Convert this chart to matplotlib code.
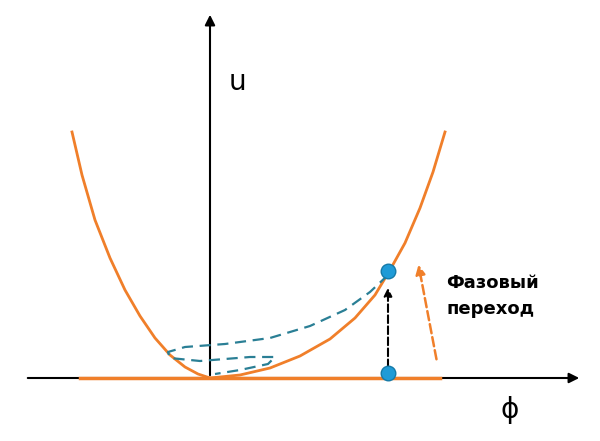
import matplotlib.pyplot as plt
import numpy as np

# schematic points, read in pixel coords of the 600x441 picture
left_x = [72, 82, 95, 110, 125, 140, 155, 170, 185, 198, 210]
left_y = [132, 175, 220, 258, 290, 316, 338, 355, 367, 374, 378]
right_x = [210, 240, 270, 300, 330, 355, 375, 390, 405, 420, 433, 445]
right_y = [378, 375, 368, 356, 339, 318, 295, 270, 243, 208, 172, 132]
loop_x = [388, 370, 345, 310, 270, 225, 185, 168, 170, 200, 250, 275, 268, 240, 215]
loop_y = [275, 292, 310, 326, 338, 344, 347, 352, 358, 361, 357, 357, 364, 370, 374]
dots_x = [388, 388]
dots_y = [271, 373]

fig = plt.figure(figsize=(6, 4.41), dpi=100)
ax = fig.add_axes([0, 0, 1, 1])
ax.set_xlim(0, 600)
ax.set_ylim(441, 0)
ax.axis('off')

orange = '#f07f2a'
teal = '#2a7f95'

# axes arrows
ax.annotate('', xy=(582, 378), xytext=(25, 378),
            arrowprops=dict(arrowstyle='-|>', color='black', lw=1.5, mutation_scale=15))
ax.annotate('', xy=(210, 12), xytext=(210, 378),
            arrowprops=dict(arrowstyle='-|>', color='black', lw=1.5, mutation_scale=15))

ax.plot([80, 440], [378, 378], color=orange, lw=2.5, zorder=4)
ax.plot(left_x, left_y, color=orange, lw=2, zorder=4)
ax.plot(right_x, right_y, color=orange, lw=2, zorder=4)
ax.plot(loop_x, loop_y, color=teal, lw=1.6, ls=(0, (5, 3)), zorder=4)

ax.annotate('', xy=(388, 285), xytext=(388, 370),
            arrowprops=dict(arrowstyle='-|>', color='black', lw=1.5, ls='--', mutation_scale=12))
ax.annotate('', xy=(418, 262), xytext=(437, 362),
            arrowprops=dict(arrowstyle='-|>', color=orange, lw=1.8, ls='--', mutation_scale=14))

ax.scatter(dots_x, dots_y, s=110, color='#1f9bd7', edgecolor='#157aa8', zorder=5)

ax.text(237, 82, 'u', fontsize=20, ha='center', va='center')
ax.text(510, 410, 'ϕ', fontsize=20, ha='center', va='center')
ax.text(446, 296, 'Фазовый\nпереход', fontsize=13, fontweight='bold',
        ha='left', va='center', linespacing=1.5)

fig.savefig('out.png', dpi=100)
